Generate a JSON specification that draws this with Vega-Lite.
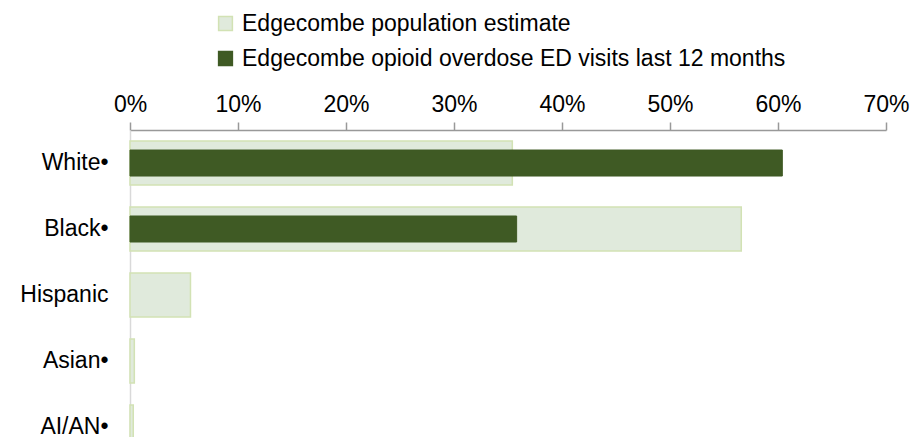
{
  "$schema": "https://vega.github.io/schema/vega-lite/v6.json",
  "autosize": {"type": "none"},
  "padding": {"left": 130, "top": 130, "right": 25, "bottom": 0},
  "width": 756,
  "height": 330,
  "config": {"font": "Liberation Sans", "view": {"stroke": null}},
  "data": {
    "values": [
      {"race": "White•", "series": "Edgecombe population estimate", "value": 0.354},
      {"race": "Black•", "series": "Edgecombe population estimate", "value": 0.566},
      {"race": "Hispanic", "series": "Edgecombe population estimate", "value": 0.056},
      {"race": "Asian•", "series": "Edgecombe population estimate", "value": 0.004},
      {"race": "AI/AN•", "series": "Edgecombe population estimate", "value": 0.003},
      {"race": "White•", "series": "Edgecombe opioid overdose ED visits last 12 months", "value": 0.604},
      {"race": "Black•", "series": "Edgecombe opioid overdose ED visits last 12 months", "value": 0.358},
      {"race": "Hispanic", "series": "Edgecombe opioid overdose ED visits last 12 months", "value": 0},
      {"race": "Asian•", "series": "Edgecombe opioid overdose ED visits last 12 months", "value": 0},
      {"race": "AI/AN•", "series": "Edgecombe opioid overdose ED visits last 12 months", "value": 0}
    ]
  },
  "encoding": {
    "y": {
      "field": "race",
      "type": "nominal",
      "sort": ["White•", "Black•", "Hispanic", "Asian•", "AI/AN•"],
      "scale": {"paddingInner": 0.333, "paddingOuter": 0.167},
      "axis": {"title": null, "ticks": false, "domainColor": "#d9d9d9", "domainWidth": 1.5, "labelFontSize": 23, "labelColor": "#000000", "labelPadding": 22, "labelLimit": 0}
    },
    "x": {
      "field": "value",
      "type": "quantitative",
      "scale": {"domain": [0, 0.7], "nice": false},
      "axis": {"orient": "top", "format": ".0%", "values": [0, 0.1, 0.2, 0.3, 0.4, 0.5, 0.6, 0.7], "grid": false, "title": null, "tickSize": 8, "tickColor": "#999999", "tickWidth": 1.5, "domainColor": "#999999", "domainWidth": 1.5, "labelFontSize": 23, "labelColor": "#000000", "labelPadding": 6, "labelFlush": false, "labelOverlap": false}
    },
    "color": {
      "field": "series",
      "type": "nominal",
      "scale": {"domain": ["Edgecombe population estimate", "Edgecombe opioid overdose ED visits last 12 months"], "range": ["#e0eadc", "#3f5a24"]},
      "legend": {"title": null, "orient": "none", "legendX": 84, "legendY": -118, "direction": "vertical", "symbolType": "square", "symbolSize": 190, "symbolStrokeWidth": 1.5, "labelFontSize": 23, "labelColor": "#000000", "labelLimit": 0, "rowPadding": 11, "labelOffset": 5}
    },
    "stroke": {
      "field": "series",
      "type": "nominal",
      "scale": {"domain": ["Edgecombe population estimate", "Edgecombe opioid overdose ED visits last 12 months"], "range": ["#d2e2b4", "#3f5a24"]},
      "legend": {"title": null, "orient": "none", "legendX": 84, "legendY": -118, "direction": "vertical", "symbolType": "square", "symbolSize": 190, "symbolStrokeWidth": 1.5, "labelFontSize": 23, "labelColor": "#000000", "labelLimit": 0, "rowPadding": 11, "labelOffset": 5}
    }
  },
  "layer": [
    {
      "transform": [{"filter": "datum.series === 'Edgecombe population estimate'"}],
      "mark": {"type": "bar", "strokeWidth": 1.5}
    },
    {
      "transform": [{"filter": "datum.series === 'Edgecombe opioid overdose ED visits last 12 months' && datum.value > 0"}],
      "mark": {"type": "bar", "size": 26, "strokeWidth": 1}
    }
  ]
}
